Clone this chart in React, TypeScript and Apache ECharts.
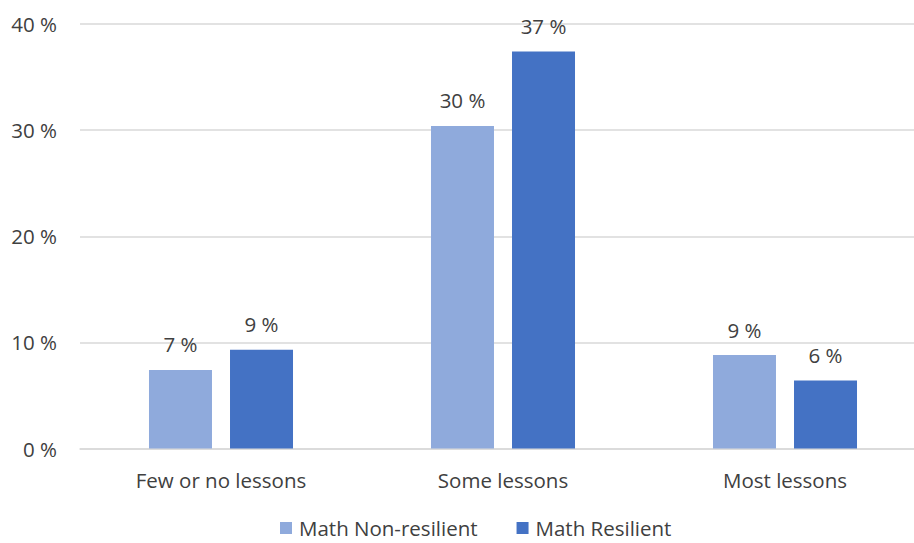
import React, { useEffect, useRef } from "react";
import * as echarts from "echarts";

const categories = ["Few or no lessons", "Some lessons", "Most lessons"];
const nonResilient = [7.4, 30.4, 8.8];
const resilient = [9.3, 37.4, 6.4];
const seriesNames = ["Math Non-resilient", "Math Resilient"];
const yTicks = [0, 10, 20, 30, 40];

const FONT = "'Open Sans', 'Noto Sans', sans-serif";
const TEXT = "#404040";
const FS = 20.5;

export default function App() {
  const ref = useRef<HTMLDivElement>(null);
  useEffect(() => {
    const chart = echarts.init(ref.current!, null, { renderer: "svg" });
    const label = {
      show: true,
      position: "top",
      distance: 15,
      color: TEXT,
      fontFamily: FONT,
      fontSize: FS,
      formatter: (p: any) => `${Math.round(p.value)} %`,
    };
    chart.setOption({
      animation: false,
      textStyle: { fontFamily: FONT },
      grid: { left: 80, right: 0, top: 24, bottom: 94.5, containLabel: false },
      legend: {
        top: 517,
        left: 280,
        padding: 0,
        itemWidth: 12,
        itemHeight: 12,
        itemGap: 39,
        icon: "rect",
        textStyle: {
          color: TEXT,
          fontSize: FS,
          fontFamily: FONT,
          lineHeight: 22,
          padding: [0, 0, 0, 2],
        },
        data: seriesNames,
      },
      xAxis: {
        type: "category",
        data: categories,
        axisTick: { show: false },
        axisLine: { show: true, lineStyle: { color: "#D9D9D9", width: 1.5 } },
        axisLabel: { color: TEXT, fontSize: FS, fontFamily: FONT, margin: 21 },
      },
      yAxis: {
        type: "value",
        min: yTicks[0],
        max: yTicks[yTicks.length - 1],
        interval: 10,
        axisLine: { show: false },
        axisTick: { show: false },
        splitLine: { lineStyle: { color: "#D9D9D9", width: 1.5 } },
        axisLabel: {
          color: TEXT,
          fontSize: FS,
          fontFamily: FONT,
          margin: 23,
          formatter: (v: number) => `${v} %`,
        },
      },
      series: [
        {
          name: seriesNames[0],
          type: "bar",
          data: nonResilient,
          barWidth: 63,
          barGap: "28.6%",
          itemStyle: { color: "#8FAADC" },
          label,
        },
        {
          name: seriesNames[1],
          type: "bar",
          data: resilient,
          barWidth: 63,
          barGap: "28.6%",
          itemStyle: { color: "#4472C4" },
          label,
        },
      ],
    });
    return () => chart.dispose();
  }, []);
  return (
    <div
      style={{
        position: "fixed",
        left: 0,
        top: 0,
        width: 914,
        height: 543,
        overflow: "hidden",
        background: "#fff",
      }}
    >
      <div ref={ref} style={{ width: 926, height: 543 }} />
    </div>
  );
}
